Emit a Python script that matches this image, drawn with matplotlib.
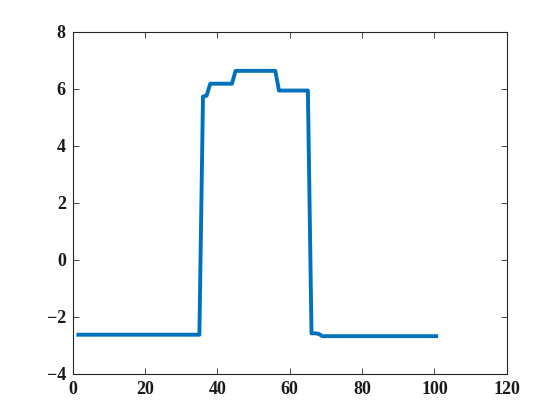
import matplotlib
matplotlib.use('Agg')
import matplotlib.pyplot as plt

# valores
x = [1, 35, 36, 37, 38, 44, 45, 56, 57, 65, 66, 67, 68, 69, 101]
y = [-2.63, -2.63, 5.72, 5.75, 6.17, 6.17, 6.62, 6.62, 5.93, 5.93,
     -2.58, -2.58, -2.6, -2.68, -2.68]
xticks = [0, 20, 40, 60, 80, 100, 120]
yticks = [-4, -2, 0, 2, 4, 6, 8]

plt.rcParams['font.family'] = ['Liberation Serif', 'DejaVu Serif']

fig = plt.figure(figsize=(5.6, 4.2), dpi=100)
ax = fig.add_axes([0.13, 0.11, 0.775, 0.815])
ax.plot(x, y, color='#0072BD', lw=2.8, solid_joinstyle='round',
        solid_capstyle='butt')
ax.set_xlim(0, 120)
ax.set_ylim(-4, 8)
ax.set_xticks(xticks)
ax.set_yticks(yticks)
ax.tick_params(direction='in', top=True, right=True, length=4,
               width=0.6, color='#262626', labelsize=13, pad=5)
for lab in ax.get_xticklabels() + ax.get_yticklabels():
    lab.set_fontweight('bold')
    lab.set_color('#1a1a1a')
for s in ax.spines.values():
    s.set_linewidth(0.8)
    s.set_color('#262626')
fig.savefig('out.png', dpi=100)
